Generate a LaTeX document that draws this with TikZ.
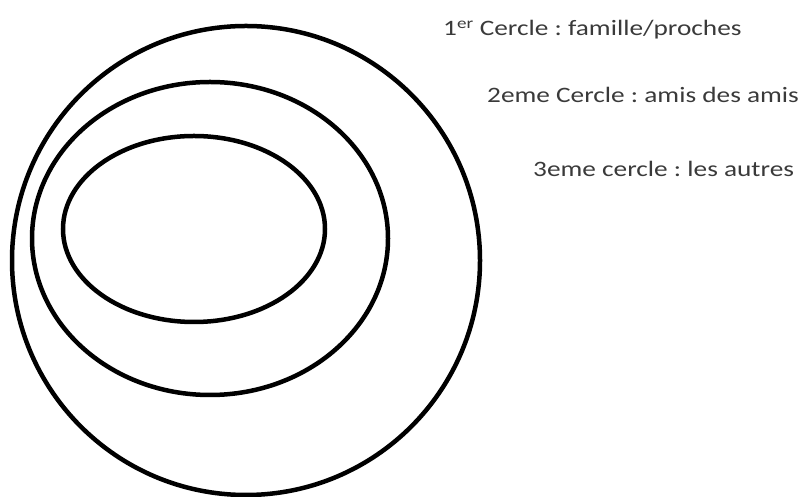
\documentclass[tikz,border=0pt]{standalone}
\usepackage{fontspec}
\setmainfont{Carlito}[FakeStretch=1.24]
\usepackage{xcolor}
\definecolor{CercleText}{HTML}{3A3A3A}

\begin{document}
\frenchspacing
\begin{tikzpicture}[
  x=1pt,y=1pt,
  ring/.style={draw=black,line width=4.5pt},
  legend/.style={anchor=base west,inner sep=0pt,text=CercleText,
    font=\fontsize{22}{26}\selectfont}
]
\useasboundingbox (0,0) rectangle (800,497);

% three nested rings, outer to inner
\draw[ring] (246,236.5) ellipse [x radius=234,y radius=234.5];
\draw[ring] (210,258.5) ellipse [x radius=178,y radius=156.5];
\draw[ring] (194,268) ellipse [x radius=131,y radius=93];

% legend on the right
\node[legend] (first) at (443,461) {1\textsuperscript{er} Cercle : famille/proches};
\node[legend] (second) at (487,394) {2eme Cercle : amis des amis};
\node[legend] (third) at (533,320) {3eme cercle : les autres};

\end{tikzpicture}
\end{document}
